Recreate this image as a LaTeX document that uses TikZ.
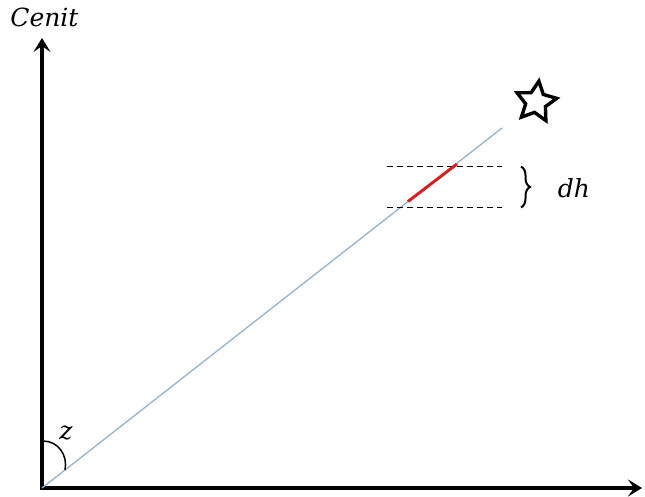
\documentclass[tikz,border=0pt]{standalone}
\usepackage{fontspec}
\setmainfont{DejaVu Serif}
\usetikzlibrary{arrows.meta,shapes.geometric,decorations.pathreplacing}
\begin{document}
\begin{tikzpicture}[x=1pt,y=-1pt,
  axis/.style={line width=3.4pt,-{Stealth[length=14pt,width=17pt,inset=6pt]}},
  sight/.style={line width=1.3pt,draw={rgb,255:red,150;green,178;blue,205}},
  seg/.style={line width=3pt,draw={rgb,255:red,205;green,35;blue,35}},
  guide/.style={line width=1.5pt,dash pattern=on 6pt off 4pt},
  lbl/.style={font=\fontsize{25}{28}\selectfont\itshape,inner sep=0pt},
  starshape/.style={star,star points=5,star point ratio=2.0,minimum size=42pt,inner sep=0pt,line width=3.4pt,draw,rotate=-8}]
\useasboundingbox (0,0) rectangle (645,497);
\coordinate (O) at (42,488);
\coordinate (Ztop) at (42,38);
\coordinate (Xend) at (642,488);
\coordinate (P) at (502,128);
\coordinate (R1) at (408,201.5);
\coordinate (R2) at (457,164);
\coordinate (A1) at (387,166.5);
\coordinate (A2) at (502,166.5);
\coordinate (B1) at (387,207.5);
\coordinate (B2) at (502,207.5);
\coordinate (Bt) at (521,166.5);
\coordinate (Bb) at (521,207.5);
\coordinate (Z1) at (43,441);
\coordinate (Z2) at (65,470);
% axes
\draw[axis] ([yshift=1.7pt]O) -- (Ztop);
\draw[axis] ([xshift=-1.7pt]O) -- (Xend);
% line of sight
\draw[sight] (O) -- (P);
% guide lines
\draw[guide] (A1) -- (A2);
\draw[guide] (B1) -- (B2);
% red segment
\draw[seg] (R1) -- (R2);
% brace
\draw[line width=2pt,decorate,decoration={brace,amplitude=9pt,aspect=0.5}] (Bt) -- (Bb);
% angle arc
\draw[line width=1.5pt] (Z1) .. controls (58,441) and (68,455) .. (Z2);
% star
\node[starshape] (star) at (536,102) {};
% labels
\node[lbl] (cenit) at (44.5,17) {Cenit};
\node[lbl] (dh) at (574,188) {dh};
\node[lbl] (z) at (66,433) {z};
\end{tikzpicture}
\end{document}
